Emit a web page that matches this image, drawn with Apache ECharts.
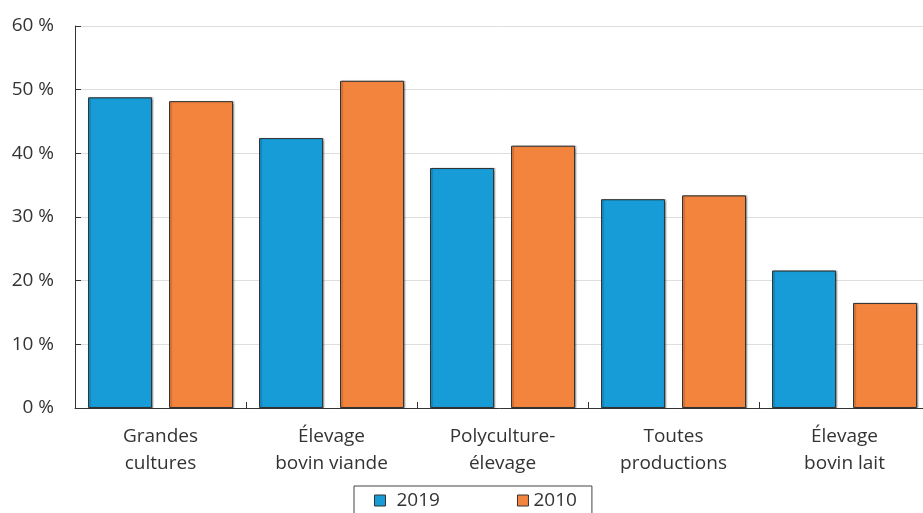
<!DOCTYPE html>
<html>
<head>
<meta charset="utf-8">
<style>
  html, body { margin: 0; padding: 0; background: #fff; }
  #chart { width: 923px; height: 513px; }
</style>
<script src="https://cdn.jsdelivr.net/npm/echarts@6/dist/echarts.min.js"></script>
</head>
<body>
<div id="chart"></div>
<script>
// Share by type of farm, 2019 vs 2010 (percent)
const categories = [
  'Grandes\ncultures',
  'Élevage\nbovin viande',
  'Polyculture-\nélevage',
  'Toutes\nproductions',
  'Élevage\nbovin lait'
];
const values2019 = [48.8, 42.4, 37.7, 32.8, 21.6];
const values2010 = [48.2, 51.4, 41.2, 33.4, 16.5];
const yTicks = [0, 10, 20, 30, 40, 50, 60];

const FONT = '"Open Sans", "Noto Sans", sans-serif';
const BLUE = '#179cd8';
const ORANGE = '#f3843e';

const barStyle = (color) => ({
  color: color,
  borderColor: '#333',
  borderWidth: 1,
  shadowColor: 'rgba(0,0,0,0.3)',
  shadowOffsetX: 1.5,
  shadowOffsetY: 0,
  shadowBlur: 1
});

const chart = echarts.init(document.getElementById('chart'), null, { renderer: 'canvas' });
chart.setOption({
  animation: false,
  textStyle: { fontFamily: FONT },
  // the plot area runs slightly past the right edge of the canvas
  grid: {
    left: 75, width: 855, top: 26, bottom: 105,
    containLabel: false,
    outerBoundsMode: 'none'
  },
  legend: {
    left: 354,
    top: 486,
    orient: 'horizontal',
    icon: 'rect',
    itemWidth: 11,
    itemHeight: 11,
    itemGap: 77,
    padding: [5, 15, 12, 20],
    borderColor: '#444',
    borderWidth: 1,
    itemStyle: { borderColor: '#333', borderWidth: 1, shadowBlur: 0, shadowOffsetX: 0 },
    textStyle: { fontFamily: FONT, fontSize: 19, color: '#333' },
    data: [
      { name: '2019', textStyle: { padding: [0, 0, 0, 6] } },
      { name: '2010' }
    ]
  },
  xAxis: {
    type: 'category',
    data: categories,
    boundaryGap: true,
    axisLine: { lineStyle: { color: '#333', width: 1 } },
    axisTick: { show: true, inside: true, length: 6, lineStyle: { color: '#333' } },
    axisLabel: {
      fontFamily: FONT,
      fontSize: 19,
      color: '#333',
      lineHeight: 27,
      margin: 15,
      interval: 0
    }
  },
  yAxis: {
    type: 'value',
    min: yTicks[0],
    max: yTicks[yTicks.length - 1],
    interval: 10,
    axisLine: { show: true, lineStyle: { color: '#333', width: 1 } },
    axisTick: { show: true, inside: true, length: 6, lineStyle: { color: '#333' } },
    splitLine: { show: true, lineStyle: { color: '#dedede', width: 1 } },
    axisLabel: {
      fontFamily: FONT,
      fontSize: 19,
      color: '#333',
      margin: 21,
      formatter: '{value} %'
    }
  },
  series: [
    {
      name: '2019',
      type: 'bar',
      data: values2019,
      barWidth: 64,
      barGap: '26.6%',
      itemStyle: barStyle(BLUE)
    },
    {
      name: '2010',
      type: 'bar',
      data: values2010,
      barWidth: 64,
      itemStyle: barStyle(ORANGE)
    }
  ]
});
</script>
</body>
</html>
